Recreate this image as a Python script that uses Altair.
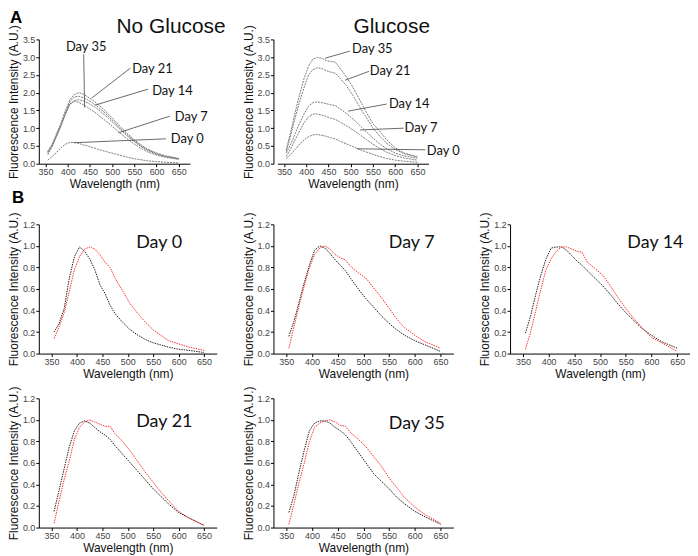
import altair as alt
import pandas as pd

WAVE = [355, 365, 375, 385, 395, 405, 415, 425, 435, 445, 455, 465, 475,
        490, 505, 520, 535, 550, 565, 580, 600, 620, 650]
DAYS = ["Day 0", "Day 7", "Day 14", "Day 21", "Day 35"]
X_TICKS = [350, 400, 450, 500, 550, 600, 650]
Y_TICKS_A = [0, 0.5, 1.0, 1.5, 2.0, 2.5, 3.0, 3.5]
Y_TICKS_B = [0, 0.2, 0.4, 0.6, 0.8, 1.0, 1.2]

# Panel A, no glucose (A.U.)
NG_DAY35 = [0.35, 0.55, 0.85, 1.15, 1.5, 1.8, 1.95, 2.0, 1.96, 1.88, 1.8, 1.7, 1.6, 1.42, 1.22, 1.02, 0.84, 0.67, 0.53, 0.41, 0.3, 0.22, 0.15]
NG_DAY21 = [0.33, 0.52, 0.8, 1.1, 1.45, 1.75, 1.88, 1.9, 1.86, 1.8, 1.72, 1.63, 1.53, 1.36, 1.17, 0.98, 0.8, 0.64, 0.5, 0.39, 0.28, 0.21, 0.14]
NG_DAY14 = [0.3, 0.5, 0.78, 1.07, 1.4, 1.68, 1.78, 1.8, 1.77, 1.71, 1.64, 1.56, 1.46, 1.3, 1.12, 0.94, 0.77, 0.62, 0.48, 0.37, 0.27, 0.2, 0.13]
NG_DAY7 = [0.25, 0.48, 0.78, 1.08, 1.4, 1.68, 1.75, 1.73, 1.66, 1.58, 1.5, 1.41, 1.31, 1.16, 1.0, 0.84, 0.69, 0.55, 0.43, 0.33, 0.24, 0.18, 0.12]
NG_DAY0 = [0.1, 0.2, 0.32, 0.45, 0.55, 0.6, 0.6, 0.57, 0.53, 0.5, 0.46, 0.42, 0.38, 0.33, 0.28, 0.23, 0.18, 0.14, 0.11, 0.08, 0.06, 0.04, 0.02]

# Panel A, glucose (A.U.)
G_DAY35 = [0.4, 0.9, 1.45, 1.95, 2.4, 2.75, 2.95, 2.99, 2.97, 2.9, 2.88, 2.86, 2.7, 2.45, 2.15, 1.8, 1.45, 1.12, 0.92, 0.68, 0.45, 0.3, 0.18]
G_DAY21 = [0.35, 0.8, 1.3, 1.75, 2.15, 2.5, 2.65, 2.7, 2.68, 2.62, 2.58, 2.55, 2.42, 2.2, 1.92, 1.6, 1.3, 1.0, 0.78, 0.58, 0.4, 0.28, 0.2]
G_DAY14 = [0.3, 0.55, 0.85, 1.15, 1.4, 1.62, 1.72, 1.74, 1.72, 1.69, 1.66, 1.64, 1.55, 1.42, 1.26, 1.08, 0.9, 0.72, 0.56, 0.43, 0.3, 0.22, 0.15]
G_DAY7 = [0.2, 0.42, 0.68, 0.92, 1.15, 1.32, 1.4, 1.4, 1.37, 1.33, 1.28, 1.25, 1.18, 1.07, 0.95, 0.82, 0.68, 0.55, 0.43, 0.33, 0.23, 0.16, 0.1]
G_DAY0 = [0.14, 0.26, 0.4, 0.55, 0.67, 0.76, 0.81, 0.82, 0.8, 0.77, 0.73, 0.7, 0.64, 0.56, 0.48, 0.4, 0.33, 0.26, 0.2, 0.15, 0.1, 0.07, 0.04]

# Panel B, normalised spectra: black = no glucose, red = glucose
B_BLACK_DAY0 = [0.2, 0.28, 0.42, 0.7, 0.9, 0.99, 0.95, 0.88, 0.78, 0.64, 0.56, 0.45, 0.37, 0.29, 0.22, 0.17, 0.13, 0.1, 0.08, 0.06, 0.04, 0.03, 0.01]
B_RED_DAY0 = [0.14, 0.25, 0.38, 0.58, 0.78, 0.9, 0.97, 0.99, 0.97, 0.92, 0.85, 0.8, 0.7, 0.58, 0.46, 0.37, 0.29, 0.22, 0.17, 0.12, 0.09, 0.06, 0.03]
B_BLACK_DAY7 = [0.16, 0.3, 0.48, 0.66, 0.82, 0.96, 1.0, 0.98, 0.93, 0.87, 0.82, 0.77, 0.7, 0.6, 0.51, 0.43, 0.35, 0.28, 0.22, 0.17, 0.12, 0.08, 0.02]
B_RED_DAY7 = [0.05, 0.25, 0.45, 0.63, 0.8, 0.92, 0.98, 1.0, 0.97, 0.92, 0.89, 0.87, 0.81, 0.75, 0.7, 0.61, 0.52, 0.42, 0.32, 0.24, 0.17, 0.11, 0.05]
B_BLACK_DAY14 = [0.19, 0.35, 0.55, 0.73, 0.88, 0.98, 0.99, 0.99, 0.96, 0.91, 0.86, 0.82, 0.77, 0.7, 0.63, 0.55, 0.46, 0.38, 0.31, 0.24, 0.17, 0.11, 0.05]
B_RED_DAY14 = [0.04, 0.2, 0.4, 0.6, 0.78, 0.88, 0.95, 0.99, 0.99, 0.97, 0.95, 0.94, 0.85, 0.79, 0.73, 0.63, 0.52, 0.42, 0.33, 0.25, 0.15, 0.1, 0.02]
B_BLACK_DAY21 = [0.15, 0.35, 0.55, 0.75, 0.9, 0.97, 0.99, 0.97, 0.93, 0.89, 0.86, 0.82, 0.76, 0.68, 0.6, 0.52, 0.44, 0.36, 0.29, 0.22, 0.14, 0.09, 0.02]
B_RED_DAY21 = [0.04, 0.25, 0.45, 0.62, 0.82, 0.93, 0.98, 1.0, 0.98, 0.96, 0.94, 0.94, 0.87, 0.8, 0.71, 0.61, 0.51, 0.42, 0.33, 0.25, 0.15, 0.09, 0.02]
B_BLACK_DAY35 = [0.14, 0.3, 0.52, 0.72, 0.9, 0.97, 0.99, 0.99, 0.97, 0.93, 0.9, 0.86, 0.8, 0.7, 0.6, 0.5, 0.43, 0.36, 0.28, 0.22, 0.15, 0.1, 0.03]
B_RED_DAY35 = [0.03, 0.22, 0.42, 0.6, 0.8, 0.93, 0.97, 0.99, 1.0, 0.98, 0.95, 0.94, 0.88, 0.82, 0.75, 0.66, 0.57, 0.46, 0.37, 0.28, 0.19, 0.12, 0.04]

# Leader-line annotations for panel A (data units: nm, A.U.)
ANN_DAYS = ["Day 35", "Day 21", "Day 14", "Day 7", "Day 0"]
NG_TEXT_X = [396, 545, 590, 641, 632]
NG_TEXT_Y = [3.28, 2.66, 2.04, 1.32, 0.70]
NG_LINE_X1 = [436, 541, 581, 630, 621]
NG_LINE_Y1 = [3.08, 2.69, 2.10, 1.34, 0.70]
NG_LINE_X2 = [438, 454, 462, 514, 413]
NG_LINE_Y2 = [1.58, 1.85, 1.65, 0.87, 0.59]
G_TEXT_X = [503, 543, 586, 621, 671]
G_TEXT_Y = [3.22, 2.60, 1.68, 1.00, 0.36]
G_LINE_X1 = [498, 541, 581, 619, 668]
G_LINE_Y1 = [3.17, 2.60, 1.68, 1.00, 0.39]
G_LINE_X2 = [442, 487, 494, 521, 514]
G_LINE_Y2 = [2.97, 2.35, 1.48, 0.95, 0.42]

NG = {"Day 35": NG_DAY35, "Day 21": NG_DAY21, "Day 14": NG_DAY14, "Day 7": NG_DAY7, "Day 0": NG_DAY0}
G = {"Day 35": G_DAY35, "Day 21": G_DAY21, "Day 14": G_DAY14, "Day 7": G_DAY7, "Day 0": G_DAY0}
B_BLACK = {"Day 0": B_BLACK_DAY0, "Day 7": B_BLACK_DAY7, "Day 14": B_BLACK_DAY14, "Day 21": B_BLACK_DAY21, "Day 35": B_BLACK_DAY35}
B_RED = {"Day 0": B_RED_DAY0, "Day 7": B_RED_DAY7, "Day 14": B_RED_DAY14, "Day 21": B_RED_DAY21, "Day 35": B_RED_DAY35}

SANS = "Liberation Sans"
LABEL_FONT = "Lato"


def long_df(series):
    rows = []
    for name, vals in series.items():
        for w, v in zip(WAVE, vals):
            rows.append({"wave": w, "value": v, "series": name})
    return pd.DataFrame(rows)


def x_axis():
    return alt.Axis(values=X_TICKS, tickCount=20, title="Wavelength (nm)",
                    labelOverlap=False, labelFlush=False)


def y_axis(ticks):
    return alt.Axis(values=ticks, tickCount=20, format=".1f", title="Fluorescence Intensity (A.U.)",
                    labelOverlap=False, labelFlush=False)


def letter_layer(letter, dx, dy):
    return alt.Chart(pd.DataFrame({"t": [letter]})).mark_text(
        align="left", baseline="alphabetic", font=SANS, fontSize=17, fontWeight="bold", color="#000"
    ).encode(text="t:N", x=alt.value(dx), y=alt.value(dy))


def a_panel(series, tx, ty, lx1, ly1, lx2, ly2, title, title_dx, width, xrange, letter=None):
    xs = alt.Scale(domain=[335, 675], nice=False, zero=False, range=xrange)
    ys = alt.Scale(domain=[0, 3.5], nice=False)
    lines = alt.Chart(long_df(series)).mark_line(
        color="#7a7a7a", strokeWidth=1, strokeDash=[2, 1]
    ).encode(
        x=alt.X("wave:Q", scale=xs, axis=x_axis()),
        y=alt.Y("value:Q", scale=ys, axis=y_axis(Y_TICKS_A)),
        detail="series:N",
    )
    ann = pd.DataFrame({"day": ANN_DAYS, "tx": tx, "ty": ty, "lx1": lx1, "ly1": ly1, "lx2": lx2, "ly2": ly2})
    rules = alt.Chart(ann).mark_rule(color="#444", strokeWidth=0.8).encode(
        x=alt.X("lx1:Q", scale=xs), y=alt.Y("ly1:Q", scale=ys), x2="lx2:Q", y2="ly2:Q"
    )
    texts = alt.Chart(ann).mark_text(
        align="left", baseline="middle", font=LABEL_FONT, fontSize=13, color="#111"
    ).encode(x=alt.X("tx:Q", scale=xs), y=alt.Y("ty:Q", scale=ys), text="day:N")
    ttl = alt.Chart(pd.DataFrame({"t": [title]})).mark_text(
        align="center", baseline="alphabetic", font=SANS, fontSize=21, color="#111"
    ).encode(text="t:N", x=alt.value(title_dx), y=alt.value(-6))
    layers = [lines, rules, texts, ttl]
    if letter:
        layers.append(letter_layer(letter, -29, -17))
    return alt.layer(*layers).properties(width=width, height=125)


def b_panel(day, width, label_dx, label_dy, letter=None):
    xs = alt.Scale(domain=[325, 675], nice=False, zero=False)
    ys = alt.Scale(domain=[0, 1.2], nice=False)
    df = long_df({"No glucose": B_BLACK[day], "Glucose": B_RED[day]})
    lines = alt.Chart(df).mark_line(strokeWidth=1, strokeDash=[1.5, 1]).encode(
        x=alt.X("wave:Q", scale=xs, axis=x_axis()),
        y=alt.Y("value:Q", scale=ys, axis=y_axis(Y_TICKS_B)),
        color=alt.Color("series:N", scale=alt.Scale(domain=["No glucose", "Glucose"],
                                                    range=["#222222", "#ff3030"]), legend=None),
        detail="series:N",
    )
    lbl = alt.Chart(pd.DataFrame({"t": [day]})).mark_text(
        align="left", baseline="alphabetic", font=LABEL_FONT, fontSize=18, color="#111"
    ).encode(text="t:N", x=alt.value(label_dx), y=alt.value(label_dy))
    layers = [lines, lbl]
    if letter:
        layers.append(letter_layer(letter, -27, -21))
    return alt.layer(*layers).properties(width=width, height=130)


blank = alt.Chart(pd.DataFrame({"t": [""]})).mark_text().encode(
    text="t:N", x=alt.value(0), y=alt.value(0)
).properties(width=181, height=141)

chart = alt.concat(
    a_panel(NG, NG_TEXT_X, NG_TEXT_Y, NG_LINE_X1, NG_LINE_Y1, NG_LINE_X2, NG_LINE_Y2,
            "No Glucose", 133, 152, [0, 152], "A"),
    a_panel(G, G_TEXT_X, G_TEXT_Y, G_LINE_X1, G_LINE_Y1, G_LINE_X2, G_LINE_Y2,
            "Glucose", 119, 156, [4, 156]),
    blank,
    b_panel("Day 0", 179, 98, 24, "B"),
    b_panel("Day 7", 181, 116, 24),
    b_panel("Day 14", 181, 118, 24),
    b_panel("Day 21", 179, 98, 29),
    b_panel("Day 35", 181, 116, 31),
    columns=3, spacing={"row": 45, "column": 57}, bounds="flush", align="each",
).properties(
    padding={"left": -1, "top": -1, "right": 0, "bottom": 0}
).configure_view(stroke=None).configure_axis(
    grid=False, domainColor="#000", domainWidth=1, tickColor="#000", tickSize=3,
    labelFont=SANS, labelFontSize=9, labelColor="#444", labelPadding=1,
    titleFont=SANS, titleFontSize=12, titleFontWeight="normal", titleColor="#111", titlePadding=2,
)

chart.save("out.html", embed_options={"renderer": "svg", "actions": False})
